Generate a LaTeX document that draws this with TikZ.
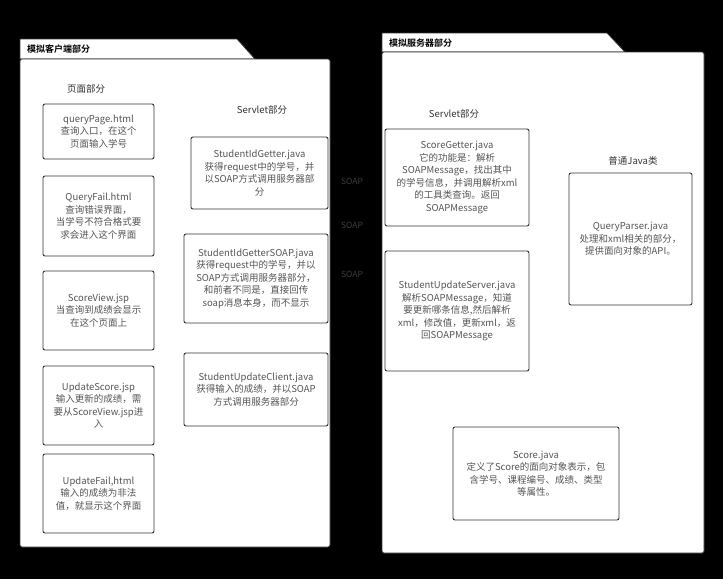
\documentclass[tikz,border=0pt]{standalone}
\usepackage{fontspec}
\setmainfont{Noto Sans CJK SC}[BoldFont={Noto Sans CJK SC Bold}]
\usepackage{tikz}
\usepackage{xcolor}
\definecolor{boxline}{HTML}{333333}
\definecolor{boxtext}{HTML}{555555}
\definecolor{soaptext}{HTML}{3C3C3C}
\tikzset{
    package-line/.style = {draw=boxline, fill=white, line width=0.8pt},
    package-title/.style = {anchor=west, inner sep=0pt, text=black, font=\fontsize{9}{11}\selectfont\bfseries},
    class-box/.style = {draw=boxline, fill=white, line width=0.9pt, rectangle, rounded corners=2pt, align=center, inner sep=2pt, text=boxtext, font=\fontsize{9.5}{12.5}\selectfont},
    part-label/.style = {inner sep=0pt, text=boxline, font=\fontsize{9.5}{12}\selectfont},
    soap-label/.style = {inner sep=0pt, text=soaptext, font=\fontsize{8.5}{10}\selectfont},
}

\begin{document}
\begin{tikzpicture}[x=1pt, y=-1pt]
\useasboundingbox (0,0) rectangle (723,579);
\fill[black] (0,0) rectangle (723,579);

% client package
\draw[package-line] (20,59) -- (20,39) -- (237,39) -- (255,59) -- cycle;
\draw[package-line, rounded corners=2pt] (20,59) rectangle (330,547);
\node[package-title] (client-title) at (27,49) {模拟客户端部分};

% server package
\draw[package-line] (382,52) -- (382,33) -- (607,33) -- (625,52) -- cycle;
\draw[package-line, rounded corners=2pt] (382,52) rectangle (704,553);
\node[package-title] (server-title) at (389,43) {模拟服务器部分};

% pages
\node[part-label] (page-label) at (86,89) {页面部分};
\node[class-box, minimum width=111pt, minimum height=55pt] (query-page) at (98.5,131.5) {queryPage.html\\查询入口，在这个\\页面输入学号};
\node[class-box, minimum width=111pt, minimum height=80pt] (query-fail) at (98.5,216) {QueryFail.html\\查询错误界面，\\当学号不符合格式要\\求会进入这个界面};
\node[class-box, minimum width=111pt, minimum height=79pt] (score-view) at (98.5,310.5) {ScoreView.jsp\\当查询到成绩会显示\\在这个页面上};
\node[class-box, minimum width=111pt, minimum height=79pt] (update-score) at (98.5,405.5) {UpdateScore.jsp\\输入更新的成绩，需\\要从ScoreView.jsp进\\入};
\node[class-box, minimum width=111pt, minimum height=79pt] (update-fail) at (98.5,493.5) {UpdateFail,html\\输入的成绩为非法\\值，就显示这个界面};

% client servlets
\node[part-label] (client-servlet-label) at (262,110) {Servlet部分};
\node[class-box, minimum width=137pt, minimum height=72pt] (id-getter) at (259.5,173) {StudentIdGetter.java\\获得request中的学号，并\\以SOAP方式调用服务器部\\分};
\node[class-box, minimum width=144pt, minimum height=89pt] (id-getter-soap) at (256,278.5) {StudentIdGetterSOAP.java\\获得request中的学号，并以\\SOAP方式调用服务器部分，\\和前者不同是，直接回传\\soap消息本身，而不显示};
\node[class-box, minimum width=144pt, minimum height=73pt] (update-client) at (256,389.5) {StudentUpdateClient.java\\获得输入的成绩，并以SOAP\\方式调用服务器部分};

% soap labels
\node[soap-label] (soap-a) at (352,181) {SOAP};
\node[soap-label] (soap-b) at (352,225) {SOAP};
\node[soap-label] (soap-c) at (352,274) {SOAP};

% server servlets
\node[part-label] (server-servlet-label) at (454,114) {Servlet部分};
\node[class-box, minimum width=144pt, minimum height=97pt] (score-getter) at (457,177.5) {ScoreGetter.java\\它的功能是：解析\\SOAPMessage，找出其中\\的学号信息，并调用解析xml\\的工具类查询。返回\\SOAPMessage};
\node[class-box, minimum width=144pt, minimum height=120pt] (update-server) at (457,311) {StudentUpdateServer.java\\解析SOAPMessage，知道\\要更新哪条信息,然后解析\\xml，修改值，更新xml，返\\回SOAPMessage};

% plain java classes
\node[part-label] (java-label) at (633,161) {普通Java类};
\node[class-box, minimum width=123pt, minimum height=132pt] (query-parser) at (630.5,239) {QueryParser.java\\处理和xml相关的部分，\\提供面向对象的API。};
\node[class-box, minimum width=166pt, minimum height=93pt] (score) at (536,473.5) {Score.java\\定义了Score的面向对象表示，包\\含学号、课程编号、成绩、类型\\等属性。};
\end{tikzpicture}
\end{document}
